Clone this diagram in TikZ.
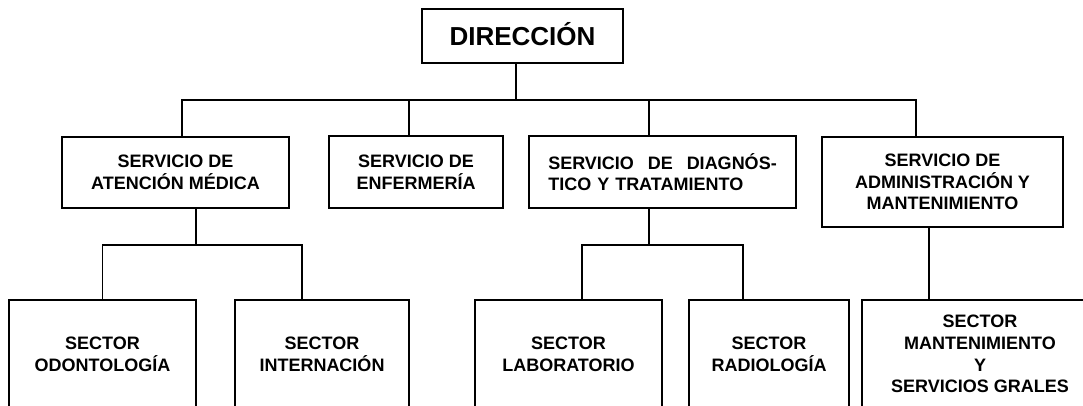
\documentclass[tikz,border=0pt]{standalone}
\usepackage{fontspec}
\setmainfont{Liberation Sans}
\tikzset{
    x={1pt},
    y={-1pt},
    unit box/.style={
        draw=black,
        line width={1.6pt},
        inner sep=0pt,
        align=center,
        font={\bfseries\fontsize{18}{21.7}\selectfont},
    },
    top box/.style={
        unit box,
        font={\bfseries\fontsize{26}{30}\selectfont},
        text height={18.6},
        text depth={0},
    },
    sector box/.style={
        unit box,
        minimum height={108.5},
    },
    link/.style={
        draw=black,
        line width={1.6pt},
    },
}

\begin{document}
\begin{tikzpicture}
\useasboundingbox (0,0) rectangle (1083,405);
\clip (0,0) rectangle (1083,405);
% units
\node[top box, minimum width={201}, minimum height={54}] (dir) at (522.5,36) {DIRECCIÓN};
\node[unit box, minimum width={227}, minimum height={71}] (atencion) at (175.5,172.5) {SERVICIO DE\\ATENCIÓN MÉDICA};
\node[unit box, minimum width={174}, minimum height={72}] (enfer) at (416,172) {SERVICIO DE\\ENFERMERÍA};
\node[unit box, minimum width={267}, minimum height={72}, text width={228.5}, align=left] (diag) at (662.5,172) {SERVICIO\hfill DE\hfill DIAGNÓS-\\TICO Y TRATAMIENTO};
\node[unit box, minimum width={241}, minimum height={90}] (admin) at (942.5,182) {SERVICIO DE\\ADMINISTRACIÓN Y\\MANTENIMIENTO};
% sectors
\node[sector box, minimum width={187}] (odonto) at (102.5,354) {SECTOR\\ODONTOLOGÍA};
\node[sector box, minimum width={174}] (intern) at (322,354) {SECTOR\\INTERNACIÓN};
\node[sector box, minimum width={187}] (lab) at (568.5,354) {SECTOR\\LABORATORIO};
\node[sector box, minimum width={160}] (radio) at (769,354) {SECTOR\\RADIOLOGÍA};
\node[sector box, minimum width={236}] (mant) at (980,354) {SECTOR\\MANTENIMIENTO\\Y\\SERVICIOS GRALES};
% buses
\coordinate (top bus) at (516,100);
\coordinate (atencion bus) at (196,245);
\coordinate (diag bus) at (649,245);
% links
\draw[link] (top bus) -- (top bus |- dir.south);
\draw[link] (top bus) -| ([xshift=6.5]atencion.north);
\draw[link] (top bus) -| ([xshift=-7]enfer.north);
\draw[link] (top bus) -| ([xshift=-13.5]diag.north);
\draw[link] (top bus) -| ([xshift=-26.5]admin.north);
\draw[link] (atencion bus) -- (atencion bus |- atencion.south);
\draw[link] (atencion bus) -| (odonto.north);
\draw[link] (atencion bus) -| ([xshift=-20]intern.north);
\draw[link] (diag bus) -- (diag bus |- diag.south);
\draw[link] (diag bus) -| ([xshift=13.5]lab.north);
\draw[link] (diag bus) -| ([xshift=-26]radio.north);
\draw[link] ([xshift=-13.5]admin.south) -- ([xshift=-13.5]admin.south |- mant.north);
\end{tikzpicture}
\end{document}
